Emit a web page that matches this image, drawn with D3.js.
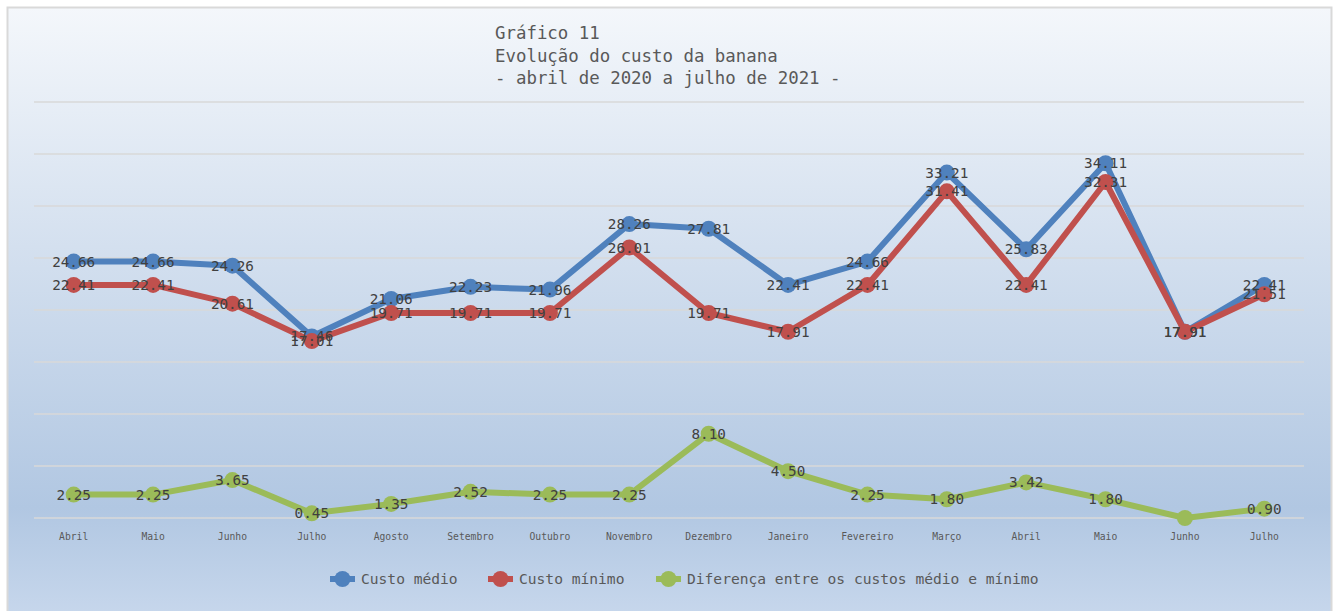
<!DOCTYPE html>
<html><head><meta charset="utf-8">
<script src="https://cdn.jsdelivr.net/npm/d3@7"></script>
<style>body{margin:0;background:#fff}svg{display:block}</style>
</head><body>
<svg id="c" width="1335" height="611"></svg>
<script>
const months = ["Abril","Maio","Junho","Julho","Agosto","Setembro","Outubro","Novembro","Dezembro","Janeiro","Fevereiro","Março","Abril","Maio","Junho","Julho"];
const custoMedio = [24.66,24.66,24.26,17.46,21.06,22.23,21.96,28.26,27.81,22.41,24.66,33.21,25.83,34.11,17.91,22.41];
const custoMinimo = [22.41,22.41,20.61,17.01,19.71,19.71,19.71,26.01,19.71,17.91,22.41,31.41,22.41,32.31,17.91,21.51];
const diferenca = [2.25,2.25,3.65,0.45,1.35,2.52,2.25,2.25,8.10,4.50,2.25,1.80,3.42,1.80,0.00,0.90];
const yTicks = [0,5,10,15,20,25,30,35,40];
const titleLines = ["Gráfico 11","Evolução do custo da banana","- abril de 2020 a julho de 2021 -"];
const seriesNames = ["Custo médio","Custo mínimo","Diferença entre os custos médio e mínimo"];
const colors = ["#4f81bd","#c0504d","#9bbb59"];

const svg = d3.select("#c");
const defs = svg.append("defs");
const g = defs.append("linearGradient").attr("id","bg").attr("x1",0).attr("y1",0).attr("x2",0).attr("y2",1);
g.append("stop").attr("offset","0%").attr("stop-color","#f4f7fb");
g.append("stop").attr("offset","82%").attr("stop-color","#b1c7e2");
g.append("stop").attr("offset","100%").attr("stop-color","#c7d7ec");

svg.append("rect").attr("x",7.5).attr("y",7.5).attr("width",1324).attr("height",610)
  .attr("fill","url(#bg)").attr("stroke","#d9d9d9").attr("stroke-width",2);

const mono = "'DejaVu Sans Mono', 'Liberation Mono', monospace";

const x = d3.scaleBand().domain(d3.range(months.length)).range([34,1304]);
const cx = i => x(i) + x.bandwidth()/2;
const y = d3.scaleLinear().domain([0,40]).range([518,102]);

// gridlines
svg.append("g").selectAll("line").data(yTicks).join("line")
  .attr("x1",34).attr("x2",1304).attr("y1",d=>y(d)).attr("y2",d=>y(d))
  .attr("stroke","#d9d9d9").attr("stroke-width",1.5);

// x axis labels
const xAxis = d3.axisBottom(x).tickSize(0).tickFormat(i=>months[i]);
const xa = svg.append("g").attr("transform","translate(0,530)").call(xAxis);
xa.select(".domain").remove();
xa.selectAll("text").attr("font-family",mono).attr("font-size","9.7px").attr("fill","#595959").attr("dy","0.71em");

// title
svg.append("g").selectAll("text").data(titleLines).join("text")
  .attr("x",495).attr("y",(d,i)=>39+i*22.5)
  .attr("font-family",mono).attr("font-size","17.4px").attr("fill","#595959")
  .text(d=>d);

const series = [custoMedio, custoMinimo, diferenca];
const line = d3.line().x((d,i)=>cx(i)).y(d=>y(d));
series.forEach((s,k)=>{
  const gs = svg.append("g");
  gs.append("path").datum(s).attr("d",line).attr("fill","none")
    .attr("stroke",colors[k]).attr("stroke-width",6).attr("stroke-linejoin","round");
  gs.selectAll("circle").data(s).join("circle")
    .attr("cx",(d,i)=>cx(i)).attr("cy",d=>y(d)).attr("r",8).attr("fill",colors[k]);
});
series.forEach((s,k)=>{
  svg.append("g").selectAll("text").data(s.map((v,i)=>({v,i})).filter(d=>d.v!==0)).join("text")
    .attr("x",d=>cx(d.i)).attr("y",d=>y(d.v)).attr("dy","0.35em")
    .attr("text-anchor","middle").attr("font-family",mono).attr("font-size","14.3px").attr("fill","#404040")
    .text(d=>d.v.toFixed(2));
});

// legend
const legX = [330,488,656];
const lg = svg.append("g");
seriesNames.forEach((n,k)=>{
  const gi = lg.append("g").attr("transform",`translate(${legX[k]},579)`);
  gi.append("line").attr("x1",0).attr("x2",25).attr("stroke",colors[k]).attr("stroke-width",6);
  gi.append("circle").attr("cx",12.5).attr("cy",0).attr("r",8).attr("fill",colors[k]);
  gi.append("text").attr("x",31).attr("dy","0.35em").attr("font-family",mono).attr("font-size","14.6px")
    .attr("fill","#595959").text(n);
});
</script>
</body></html>
